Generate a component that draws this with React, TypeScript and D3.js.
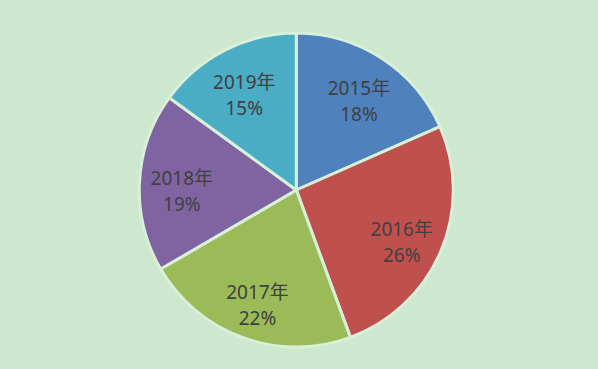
import React from "react";
import * as d3 from "d3";

const categories = ["2015年", "2016年", "2017年", "2018年", "2019年"];
const values = [18.4, 26.0, 22.2, 18.4, 15.0];
const percentLabels = ["18%", "26%", "22%", "19%", "15%"];
const colors = ["#4f81bd", "#c0504d", "#9bbb59", "#8064a2", "#4bacc6"];

const W = 598;
const H = 369;

export default function App() {
  const cx = 296.3;
  const cy = 190;
  const r = 157;
  const data = categories.map((c, i) => ({ c, v: values[i], p: percentLabels[i], col: colors[i] }));
  const pie = d3.pie<any>().value((d) => d.v).sort(null);
  const arcs = pie(data);
  const arc = d3.arc<any>().innerRadius(0).outerRadius(r);
  const labelArc = d3.arc<any>().innerRadius(r * 0.73).outerRadius(r * 0.73);
  return (
    <svg
      width={W}
      height={H}
      style={{ position: "absolute", left: 0, top: 0, display: "block" }}
    >
      <rect x={0} y={0} width={W} height={H} fill="#cde8cf" />
      <g transform={`translate(${cx},${cy})`}>
        {arcs.map((a, i) => (
          <path key={i} d={arc(a) as string} fill={a.data.col} stroke="#d8efd8" strokeWidth={3} strokeLinejoin="round" />
        ))}
        {arcs.map((a, i) => {
          const [x, y] = labelArc.centroid(a);
          return (
            <text
              key={"t" + i}
              x={x}
              y={y}
              textAnchor="middle"
              fill="#404040"
              style={{ fontFamily: "'Noto Sans', 'Noto Sans CJK SC', sans-serif", fontSize: 19 }}
            >
              <tspan x={x} dy={1}>{a.data.c}</tspan>
              <tspan x={x} dy={26}>{a.data.p}</tspan>
            </text>
          );
        })}
      </g>
    </svg>
  );
}
